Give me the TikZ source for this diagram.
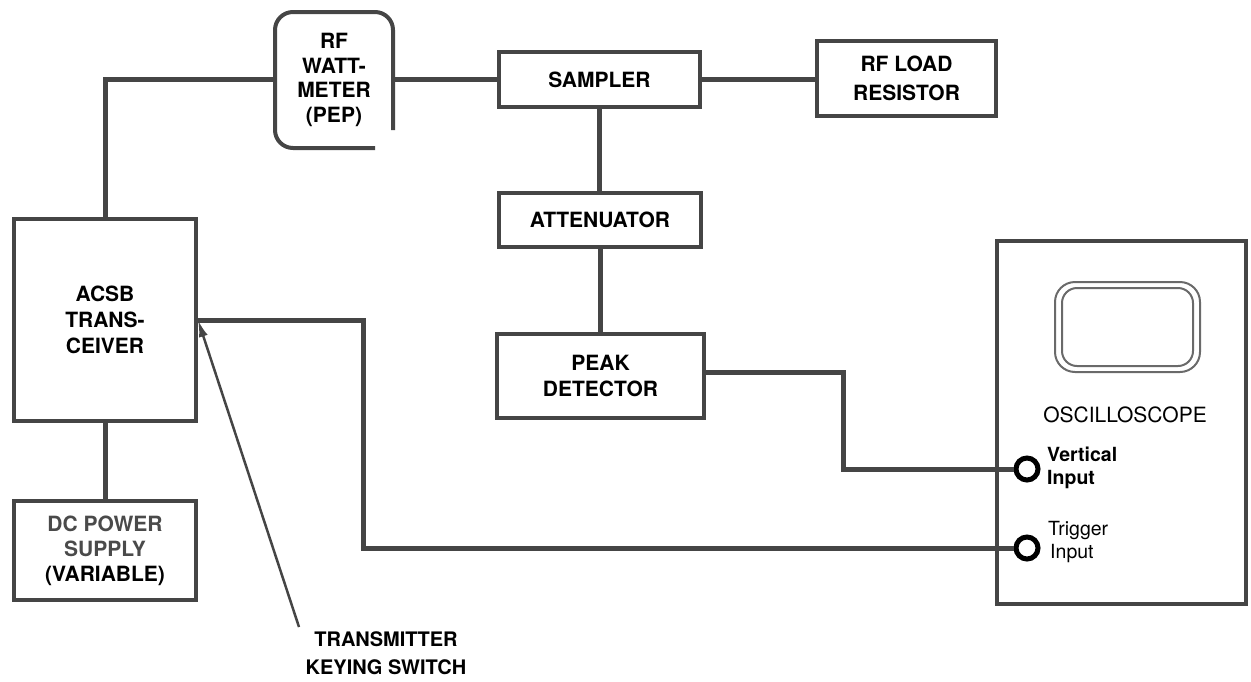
\documentclass[tikz,border=0pt]{standalone}
\usepackage{fontspec}
\setmainfont{TeX Gyre Heros}
\usetikzlibrary{arrows.meta}
\definecolor{linegray}{HTML}{454545}
\definecolor{scrgray}{HTML}{6A6A6A}
\definecolor{dctext}{HTML}{4A4A4A}
\newcommand\lblfont{\fontsize{21}{24.5}\selectfont\bfseries}
\newcommand\lblreg{\fontsize{21}{24.5}\selectfont\mdseries}
\newcommand\smlfont{\fontsize{19.5}{23}\selectfont}
\begin{document}
\begin{tikzpicture}[x=1pt,y=-1pt,
  box/.style={draw=linegray, line width=4pt, align=center, inner sep=0pt, font=\lblfont},
  wire/.style={draw=linegray, line width=5pt, line join=miter},
  jack/.style={circle, draw=black, line width=5pt, minimum size=22pt, inner sep=0pt},
  ptr/.style={draw=linegray, line width=2.5pt, -{Latex[length=17pt,width=9pt]}},
  txt/.style={inner sep=0pt, align=center}
]
\useasboundingbox (0,0) rectangle (1251,681);

% boxes
\node[box, minimum width=182pt, minimum height=202pt, font=\fontsize{21}{26}\selectfont\bfseries] (trx) at (105,320) {ACSB\\TRANS-\\CEIVER};
\node[box, minimum width=182pt, minimum height=99pt, font=\fontsize{21}{25}\selectfont\bfseries] (dc) at (105,550.5)
  {\textcolor{dctext}{DC POWER}\\\textcolor{dctext}{SUPPLY}\\(VARIABLE)};
\node[box, draw=none, minimum width=118pt, minimum height=136pt] (watt) at (334,80)
  {\raisebox{4pt}{\parbox{110pt}{\centering RF\\WATT-\\METER\\(PEP)}}};
\node[box, minimum width=201pt, minimum height=55pt] (samp) at (599.5,79.5) {SAMPLER};
\node[box, minimum width=179pt, minimum height=75pt, font=\fontsize{21}{29}\selectfont\bfseries] (load) at (906.5,78.5) {RF LOAD\\RESISTOR};
\node[box, minimum width=202pt, minimum height=54pt] (att) at (600,220) {ATTENUATOR};
\node[box, minimum width=207pt, minimum height=84pt, font=\fontsize{21}{26}\selectfont\bfseries] (peak) at (600.5,376) {PEAK\\DETECTOR};
\node[box, minimum width=249pt, minimum height=363pt] (osc) at (1121.5,422.5) {};

% wattmeter outline (rounded, open at lower right as in the original)
\draw[draw=linegray, line width=4pt, rounded corners=18pt]
  (393,130) -- (393,12) -- (275,12) -- (275,148) -- (375,148);

% oscilloscope screen
\draw[draw=scrgray, line width=2pt, rounded corners=20pt] (1055,282) rectangle (1200,372);
\draw[draw=scrgray, line width=2pt, rounded corners=15pt] (1062,288) rectangle (1193,366);
\node[txt, font=\lblreg] (osclbl) at (1125,415) {OSCILLOSCOPE};

% input jacks
\node[jack] (vin) at (1027,469) {};
\node[jack] (tin) at (1027,548) {};
\node[txt, anchor=west, align=left, font=\smlfont\bfseries] (vinl) at (1047,468) {Vertical\\Input};
\node[txt, anchor=west, align=left, font=\smlfont] (tinl) at (1048,542) {Trigger\\\hspace*{2pt}Input};

% connectors
\draw[wire] (trx.north) |- (275,79);
\draw[wire] (393,79) -- (samp.west |- 0,79);
\draw[wire] (samp.east |- 0,79) -- (load.west |- 0,79);
\draw[wire] (samp.south) -- (samp.south |- att.north);
\draw[wire] (att.south) -- (att.south |- peak.north);
\draw[wire] (trx.south) -- (dc.north);
\coordinate (pbend) at (843,372);
\draw[wire] (peak.east |- pbend) -- (pbend) |- (vin.west);
\coordinate (tbend) at (363,320);
\draw[wire] (trx.east) -- (tbend) |- (tin.west);

% keying switch pointer
\coordinate (ksw) at (299,627);
\draw[ptr] (ksw) -- (trx.east);
\node[txt, font=\fontsize{20}{28}\selectfont\bfseries] (kswl) at (386,653) {TRANSMITTER\\KEYING SWITCH};
\end{tikzpicture}
\end{document}
